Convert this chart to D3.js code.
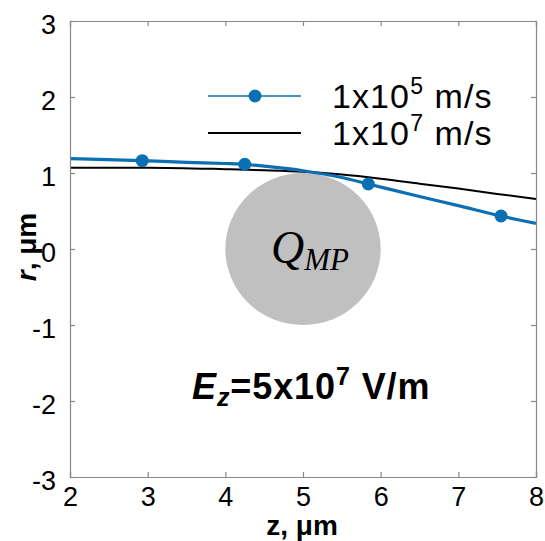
<!DOCTYPE html>
<html><head><meta charset="utf-8">
<script src="https://cdn.jsdelivr.net/npm/d3@7"></script>
<style>body{margin:0;background:#fff}</style>
</head><body>
<svg id="c" width="545" height="541"></svg>
<script>
// Data
const blueZ = [2.0, 2.93, 3.5, 4.0, 4.25, 4.5, 5.0, 5.5, 5.84, 6.5, 7.0, 7.55, 8.0];
const blueR = [1.19, 1.162, 1.14, 1.125, 1.115, 1.09, 1.03, 0.94, 0.855, 0.69, 0.57, 0.434, 0.338];
const markerZ = [2.93, 4.25, 5.84, 7.55];
const markerR = [1.162, 1.115, 0.855, 0.434];
const blackZ = [2.0, 3.0, 4.0, 4.5, 5.0, 5.5, 6.0, 6.5, 7.0, 7.5, 8.0];
const blackR = [1.07, 1.07, 1.05, 1.035, 1.015, 0.98, 0.925, 0.86, 0.795, 0.725, 0.658];
const xTicks = [2, 3, 4, 5, 6, 7, 8];
const yTicks = [-3, -2, -1, 0, 1, 2, 3];
const seriesNames = ["1x10", "1x10"];
const seriesExp = ["5", "7"];
const particle = {z: 5, r: 0, radius: 1};

const svg = d3.select("#c");
const L = 70, T = 21, W = 466, H = 456;
const x = d3.scaleLinear().domain([2, 8]).range([L, L + W]);
const y = d3.scaleLinear().domain([-3, 3]).range([T + H, T]);
const blue = "#0b6fb4", axisCol = "#888888";
const font = "Arial, 'Liberation Sans', sans-serif";
const fmt = d => String(d);

// particle
svg.append("ellipse")
  .attr("cx", x(particle.z)).attr("cy", y(particle.r))
  .attr("rx", x(particle.z + particle.radius) - x(particle.z))
  .attr("ry", y(particle.r) - y(particle.r + particle.radius))
  .attr("fill", "#c0c0c0");

// Q_MP label
const q = svg.append("text").attr("x", 271).attr("y", 263)
  .attr("font-family", "'Liberation Serif', 'Times New Roman', serif")
  .attr("font-style", "italic").attr("fill", "#000");
q.append("tspan").attr("font-size", 46).text("Q");
q.append("tspan").attr("font-size", 31).attr("dy", 7).text("MP");

// lines
const line = d3.line().x(d => x(d[0])).y(d => y(d[1])).curve(d3.curveMonotoneX);
svg.append("path").datum(blackZ.map((z, i) => [z, blackR[i]]))
  .attr("d", line).attr("fill", "none").attr("stroke", "#000").attr("stroke-width", 2);
svg.append("path").datum(blueZ.map((z, i) => [z, blueR[i]]))
  .attr("d", line).attr("fill", "none").attr("stroke", blue).attr("stroke-width", 3.2);
svg.selectAll("circle.m").data(markerZ.map((z, i) => [z, markerR[i]])).enter()
  .append("circle").attr("class", "m")
  .attr("cx", d => x(d[0])).attr("cy", d => y(d[1])).attr("r", 6.5).attr("fill", blue);

// axes (ticks inward)
const gB = svg.append("g").attr("transform", `translate(0,${T + H})`)
  .call(d3.axisBottom(x).tickValues(xTicks).tickSize(-5).tickPadding(10).tickFormat(fmt));
const gT = svg.append("g").attr("transform", `translate(0,${T})`)
  .call(d3.axisTop(x).tickValues(xTicks).tickSize(-5).tickFormat(""));
const gL = svg.append("g").attr("transform", `translate(${L},0)`)
  .call(d3.axisLeft(y).tickValues(yTicks).tickSize(-5).tickPadding(14).tickFormat(fmt));
const gR = svg.append("g").attr("transform", `translate(${L + W},0)`)
  .call(d3.axisRight(y).tickValues(yTicks).tickSize(-5).tickFormat(""));
[gB, gT, gL, gR].forEach(g => {
  g.selectAll("path,line").attr("stroke", axisCol).attr("stroke-width", 1.2);
  g.selectAll("text").attr("font-family", font).attr("font-size", 27).attr("fill", "#000");
});
gB.selectAll("text").attr("dy", "0.71em");
gL.selectAll("text").attr("dy", "0.45em");

// axis labels
svg.append("text").attr("x", 302).attr("y", 535).attr("text-anchor", "middle")
  .attr("font-family", font).attr("font-weight", "bold").attr("font-size", 28)
  .text("z, μm");
svg.append("text").attr("transform", "translate(36,247) rotate(-90)").attr("text-anchor", "middle")
  .attr("font-family", font).attr("font-weight", "bold").attr("font-size", 28)
  .html("<tspan font-style='italic'>r</tspan>, μm");

// legend
const legY = [96, 133];
svg.append("line").attr("x1", 208).attr("x2", 301).attr("y1", legY[0]).attr("y2", legY[0])
  .attr("stroke", blue).attr("stroke-width", 1.5);
svg.append("circle").attr("cx", 255).attr("cy", legY[0]).attr("r", 6.5).attr("fill", blue);
svg.append("line").attr("x1", 208).attr("x2", 301).attr("y1", legY[1]).attr("y2", legY[1])
  .attr("stroke", "#000").attr("stroke-width", 2);
seriesNames.forEach((n, i) => {
  const t = svg.append("text").attr("x", 332).attr("y", legY[i] + 12)
    .attr("font-family", font).attr("font-size", 34).attr("letter-spacing", 1.1).attr("fill", "#000");
  t.append("tspan").text(n);
  t.append("tspan").attr("font-size", 23).attr("dy", -14).text(seriesExp[i]);
  t.append("tspan").attr("dy", 14).text(" m/s");
});

// E_z annotation
const e = svg.append("text").attr("x", 192).attr("y", 399)
  .attr("font-family", font).attr("font-weight", "bold").attr("font-size", 36)
  .attr("letter-spacing", 0.9).attr("fill", "#000");
e.append("tspan").attr("font-style", "italic").text("E");
e.append("tspan").attr("font-style", "italic").attr("font-size", 25).attr("dy", 7).text("z");
e.append("tspan").attr("dy", -7).text("=5x10");
e.append("tspan").attr("font-size", 25).attr("dy", -14).text("7");
e.append("tspan").attr("dy", 14).text(" V/m");
</script>
</body></html>
